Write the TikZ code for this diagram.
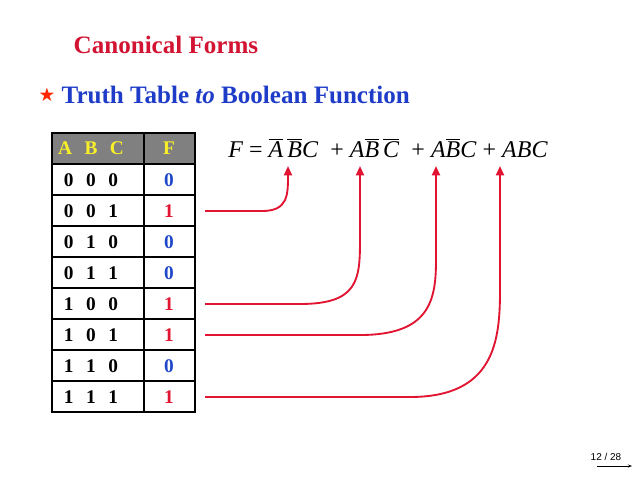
\documentclass[tikz,border=0pt]{standalone}
\usepackage{fontspec}
\setmainfont{Liberation Serif}
\setsansfont{Liberation Sans}
\newfontfamily\symfont{DejaVu Sans}
\usetikzlibrary{arrows.meta}
\definecolor{titlered}{RGB}{210,20,50}
\definecolor{subblue}{RGB}{30,60,200}
\definecolor{hdrgray}{RGB}{128,128,128}
\definecolor{hdryellow}{RGB}{250,240,40}
\definecolor{oneblue}{RGB}{30,70,200}
\definecolor{linkred}{RGB}{225,20,50}
\newcommand{\nb}[1]{$\overline{\hbox{\textit{#1}}}$}
\newcommand{\gap}{\hspace{0.65em}}
\begin{document}
\begin{tikzpicture}[x=0.75pt,y=-0.75pt,
    cell/.style={font=\fontsize{14.5}{15}\selectfont\bfseries},
    link/.style={-{Triangle[length=7pt,width=6pt]},linkred,line width=1.4pt}]
    %frame
    \useasboundingbox (0,0) rectangle (638,479);
    %titles
    \node[anchor=west,text=titlered,font=\fontsize{18.8}{20}\selectfont\bfseries] (title) at (69,45) {Canonical Forms};
    \node[anchor=west,text=subblue,font=\fontsize{18.8}{20}\selectfont\bfseries] (sub) at (57,95) {Truth Table \textit{to} Boolean Function};
    \node[anchor=east,text=red!70!orange,font=\fontsize{14}{15}\selectfont\symfont,inner sep=1pt] (star) at (sub.west) {★};
    %table
    \fill[hdrgray] (52,133) rectangle (195,164);
    \draw[line width=1.2pt] (52,133) rectangle (195,412);
    \foreach \y in {164,195,...,381} \draw[line width=1pt] (52,\y) -- (195,\y);
    \draw[line width=1.6pt] (144,133) -- (144,412);
    \node[cell,text=hdryellow] (hABC) at (91,148) {A\gap B\gap C};
    \node[cell,text=hdryellow] (hF) at (169,148) {F};
    \foreach \bits/\f [count=\i from 0] in {0/0,1/1,2/0,3/0,4/1,5/1,6/0,7/1}{
        \pgfmathtruncatemacro{\a}{div(\bits,4)}
        \pgfmathtruncatemacro{\b}{mod(div(\bits,2),2)}
        \pgfmathtruncatemacro{\c}{mod(\bits,2)}
        \ifnum\f=1 \def\fc{linkred}\else\def\fc{oneblue}\fi
        \node[cell] (r\i) at (91,180+31*\i) {\a\gap\b\gap\c};
        \node[cell,text=\fc] (f\i) at (169,180+31*\i) {\f};
    }
    %formula
    \node[anchor=west,font=\fontsize{18}{18}\selectfont,inner sep=0pt] (eq) at (228,148)
        {\textit{F} = \nb{A}\,\nb{B}\textit{C}\enspace+ \textit{A}\nb{B}\,\nb{C}\enspace+ \textit{A}\nb{B}\textit{C} + \textit{ABC}};
    \coordinate (t1) at (288,166);
    \coordinate (t2) at (360,166);
    \coordinate (t3) at (436,166);
    \coordinate (t4) at (500,166);
    %links
    \draw[link] (205,211) -- (262,211) .. controls (288,211) and (288,195) .. (t1);
    \draw[link] (205,304) -- (300,304) .. controls (358,304) and (360,280) .. (360,240) -- (t2);
    \draw[link] (205,335) -- (360,335) .. controls (430,335) and (436,300) .. (436,260) -- (t3);
    \draw[link] (205,397) -- (410,397) .. controls (495,397) and (500,340) .. (500,290) -- (t4);
    %page number
    \node[font=\sffamily\fontsize{7.5}{8}\selectfont] (page) at (606,457) {12 / 28};
    \draw[-{Stealth[length=3pt]},line width=0.5pt] (597,466) -- (632,466);
\end{tikzpicture}
\end{document}
